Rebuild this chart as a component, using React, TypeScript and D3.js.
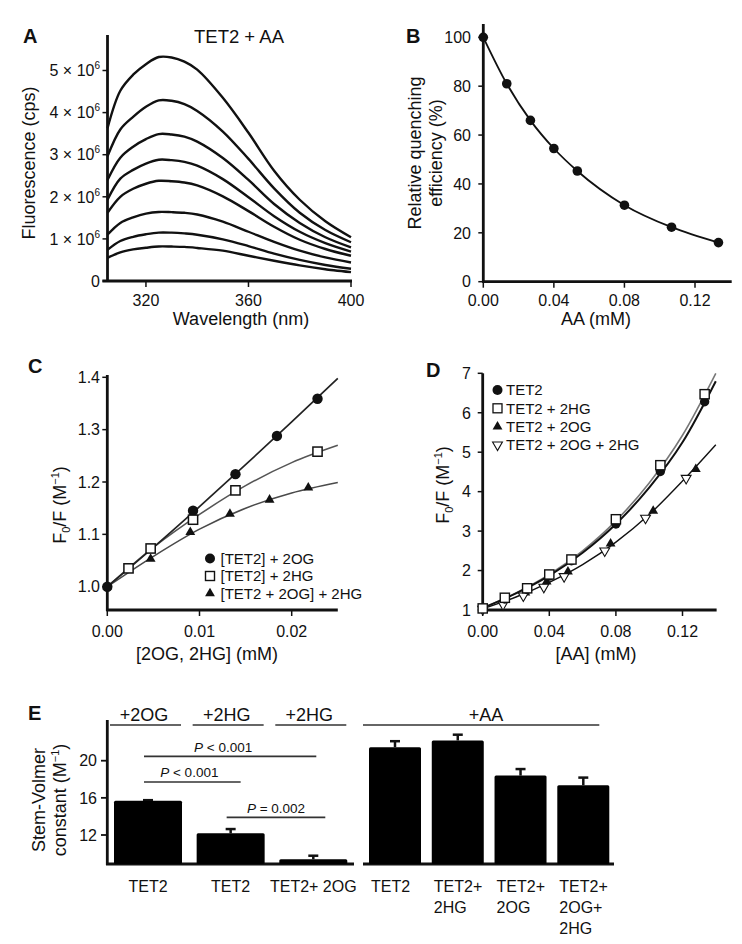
import React from 'react';
import * as d3 from 'd3';

const FONT = "'Liberation Sans', Arial, Helvetica, sans-serif";
const INK = '#111';

// ---------- Panel A: emission spectra (×10^6 cps) ----------
const aWavelengths = [305, 310, 315, 320, 325, 330, 335, 340, 350, 360, 370, 380, 390, 400];
const aSpec1 = [3.63, 4.52, 4.9, 5.15, 5.32, 5.31, 5.21, 5.02, 4.35, 3.52, 2.62, 1.93, 1.42, 1.04];
const aSpec2 = [2.96, 3.6, 3.9, 4.14, 4.29, 4.28, 4.2, 4.04, 3.55, 2.9, 2.2, 1.62, 1.21, 0.92];
const aSpec3 = [2.4, 2.93, 3.19, 3.37, 3.49, 3.48, 3.43, 3.31, 2.92, 2.4, 1.83, 1.38, 1.04, 0.8];
const aSpec4 = [1.93, 2.43, 2.64, 2.79, 2.88, 2.87, 2.83, 2.74, 2.42, 1.99, 1.54, 1.17, 0.9, 0.7];
const aSpec5 = [1.62, 2.0, 2.19, 2.31, 2.38, 2.37, 2.34, 2.27, 2.01, 1.66, 1.29, 0.98, 0.76, 0.6];
const aSpec6 = [1.1, 1.38, 1.51, 1.6, 1.64, 1.635, 1.62, 1.58, 1.41, 1.17, 0.93, 0.72, 0.56, 0.44];
const aSpec7 = [0.74, 0.95, 1.05, 1.11, 1.15, 1.148, 1.13, 1.1, 0.99, 0.83, 0.65, 0.5, 0.38, 0.29];
const aSpec8 = [0.55, 0.68, 0.75, 0.79, 0.82, 0.818, 0.81, 0.785, 0.72, 0.6, 0.48, 0.37, 0.28, 0.21];
const aSpectra = [aSpec1, aSpec2, aSpec3, aSpec4, aSpec5, aSpec6, aSpec7, aSpec8];
const aXTicks = [320, 360, 400];
const aYTicks = [0, 1, 2, 3, 4, 5];

// ---------- Panel B ----------
const bConc = [0, 0.0133, 0.0267, 0.04, 0.0533, 0.08, 0.1067, 0.1333];
const bEff = [100, 81, 66, 54.5, 45.3, 31.3, 22.3, 16];
const bXTicks = [0, 0.04, 0.08, 0.12];
const bYTicks = [0, 20, 40, 60, 80, 100];

// ---------- Panel C ----------
const cOgX = [0, 0.0093, 0.0139, 0.0184, 0.0228];
const cOgY = [1.0, 1.145, 1.215, 1.288, 1.359];
const cHgX = [0, 0.0023, 0.0047, 0.0093, 0.0139, 0.0228];
const cHgY = [1.0, 1.035, 1.073, 1.128, 1.184, 1.258];
const cBothX = [0, 0.0047, 0.009, 0.0133, 0.0176, 0.0218];
const cBothY = [1.0, 1.053, 1.104, 1.139, 1.166, 1.189];
const cFitX = [0, 0.005, 0.01, 0.015, 0.02, 0.025];
const cOgFit = [1.0, 1.075, 1.153, 1.233, 1.315, 1.398];
const cHgFit = [1.0, 1.075, 1.138, 1.193, 1.237, 1.27];
const cBothFit = [1.0, 1.058, 1.11, 1.15, 1.179, 1.199];
const cXTicks = [0, 0.01, 0.02];
const cYTicks = [1.0, 1.1, 1.2, 1.3, 1.4];
const cLegend = ['[TET2] + 2OG', '[TET2] + 2HG', '[TET2 + 2OG] + 2HG'];

// ---------- Panel D ----------
const dX = [0, 0.0133, 0.0267, 0.04, 0.0533, 0.08, 0.1067, 0.1333];
const dTetY = [1.04, 1.28, 1.52, 1.86, 2.25, 3.18, 4.51, 6.28];
const dHgY = [1.04, 1.31, 1.55, 1.9, 2.28, 3.3, 4.67, 6.47];
const dOgX = [0, 0.0128, 0.0256, 0.0384, 0.0512, 0.0768, 0.1024, 0.128];
const dOgY = [1.04, 1.25, 1.44, 1.72, 1.97, 2.68, 3.51, 4.57];
const dBothX = [0, 0.0122, 0.0244, 0.0367, 0.0489, 0.0733, 0.0978, 0.1222];
const dBothY = [1.02, 1.14, 1.36, 1.58, 1.85, 2.5, 3.33, 4.34];
const dFitX = [0, 0.02, 0.04, 0.06, 0.08, 0.1, 0.12, 0.14];
const dTetFit = [1.05, 1.42, 1.87, 2.45, 3.18, 4.1, 5.25, 6.8];
const dHgFit = [1.05, 1.43, 1.9, 2.5, 3.26, 4.22, 5.43, 7.0];
const dOgFit = [1.03, 1.33, 1.7, 2.15, 2.72, 3.42, 4.27, 5.19];
const dXTicks = [0, 0.04, 0.08, 0.12];
const dYTicks = [1, 2, 3, 4, 5, 6, 7];
const dLegend = ['TET2', 'TET2 + 2HG', 'TET2 + 2OG', 'TET2 + 2OG + 2HG'];

// ---------- Panel E ----------
const eLeftLabels = ['TET2', 'TET2', 'TET2+ 2OG'];
const eLeftGroups = ['+2OG', '+2HG', '+2HG'];
const eLeftValues = [15.68, 12.18, 9.39];
const eLeftErrors = [0.07, 0.46, 0.38];
const eRightLabels = [['TET2'], ['TET2+', '2HG'], ['TET2+', '2OG'], ['TET2+', '2OG+', '2HG']];
const eRightGroup = '+AA';
const eRightValues = [21.46, 22.18, 18.4, 17.36];
const eRightErrors = [0.64, 0.62, 0.7, 0.82];
const eYTicks = [12, 16, 20];
const eSigFrom = [0, 0, 1];
const eSigTo = [2, 1, 2];
const eSigLevel = [20.47, 17.71, 13.9];
const eSigText = ['< 0.001', '< 0.001', '= 0.002'];

const AXW = 2.8;

function tri(size: number) {
  return d3.symbol().type(d3.symbolTriangle).size(size)() as string;
}

export default function App() {
  const xA = d3.scaleLinear().domain([305, 400]).range([107.5, 351]);
  const yA = d3.scaleLinear().domain([0, 5]).range([281, 70.5]);
  const lineA = d3.line<number>().x((_, i) => xA(aWavelengths[i])).y((d) => yA(d)).curve(d3.curveCatmullRom.alpha(0.5));

  const xB = d3.scaleLinear().domain([0, 0.12]).range([483.3, 695]);
  const yB = d3.scaleLinear().domain([0, 100]).range([281.7, 37.3]);
  const lineB = d3.line<number>().x((_, i) => xB(bConc[i])).y((d) => yB(d)).curve(d3.curveMonotoneX);

  const xC = d3.scaleLinear().domain([0, 0.02]).range([107.3, 291.7]);
  const yC = d3.scaleLinear().domain([1.0, 1.4]).range([586.7, 377.3]);
  const lineC = d3.line<number>().x((_, i) => xC(cFitX[i])).y((d) => yC(d)).curve(d3.curveMonotoneX);

  const xD = d3.scaleLinear().domain([0, 0.12]).range([482.7, 682.5]);
  const yD = d3.scaleLinear().domain([1, 7]).range([610, 373.3]);
  const lineD = d3.line<number>().x((_, i) => xD(dFitX[i])).y((d) => yD(d)).curve(d3.curveMonotoneX);

  const yE = d3.scaleLinear().domain([12, 20]).range([835, 760.7]);
  const eBase = 864;
  const xEL = d3.scalePoint<number>().domain([0, 1, 2]).range([148, 313.3]);
  const xER = d3.scalePoint<number>().domain([0, 1, 2, 3]).range([395, 583.3]);
  const wL = 68;
  const wR = 52;

  const tickFs = 16;
  const titleFs = 18;

  const triUp = tri(42);
  const triUpLeg = tri(42);

  return (
    <svg width={742} height={944} style={{ position: 'absolute', left: 0, top: 0, background: '#fff' }} fontFamily={FONT} fill={INK}>
      <rect x={0} y={0} width={742} height={944} fill="#fff" />

      {/* ================= Panel A ================= */}
      <text x={23} y={43} fontSize={20} fontWeight="bold">A</text>
      <text x={239} y={43} fontSize={18.5} textAnchor="middle">TET2 + AA</text>
      <g stroke={INK} strokeWidth={AXW} fill="none">
        <line x1={xA(305)} x2={xA(305)} y1={yA(0) + 1} y2={35} />
        <line x1={xA(303)} x2={xA(400) + 1} y1={yA(0)} y2={yA(0)} />
      </g>
      {aYTicks.map((t) => (
        <g key={'ay' + t}>
          <line x1={xA(305) - 5} x2={xA(305)} y1={yA(t)} y2={yA(t)} stroke={INK} strokeWidth={1.5} />
          <text x={100} y={yA(t)} dy="0.36em" fontSize={tickFs} textAnchor="end">
            {t === 0 ? '0' : (
              <>
                {`${t} × 10`}
                <tspan fontSize={10} dy={-7}>6</tspan>
              </>
            )}
          </text>
        </g>
      ))}
      {aXTicks.map((t) => (
        <g key={'ax' + t}>
          <line x1={xA(t)} x2={xA(t)} y1={yA(0)} y2={yA(0) + 6} stroke={INK} strokeWidth={1.5} />
          <text x={xA(t)} y={306} fontSize={tickFs} textAnchor="middle">{t}</text>
        </g>
      ))}
      <text x={241} y={325} fontSize={titleFs} textAnchor="middle">Wavelength (nm)</text>
      <text transform="translate(34.5,163) rotate(-90)" fontSize={titleFs} textAnchor="middle">Fluorescence (cps)</text>
      <g fill="none" stroke={INK} strokeWidth={2.4}>
        {aSpectra.map((s, i) => (
          <path key={'as' + i} d={lineA(s) as string} />
        ))}
      </g>

      {/* ================= Panel B ================= */}
      <text x={406} y={43} fontSize={20} fontWeight="bold">B</text>
      <g stroke={INK} strokeWidth={AXW} fill="none">
        <line x1={xB(0)} x2={xB(0)} y1={yB(0) + 1} y2={24} />
        <line x1={xB(0) - 1} x2={xB(0.1408)} y1={yB(0)} y2={yB(0)} />
      </g>
      {bYTicks.map((t) => (
        <g key={'by' + t}>
          <line x1={xB(0) - 5} x2={xB(0)} y1={yB(t)} y2={yB(t)} stroke={INK} strokeWidth={1.5} />
          <text x={471} y={yB(t)} dy="0.36em" fontSize={tickFs} textAnchor="end">{t}</text>
        </g>
      ))}
      {bXTicks.map((t) => (
        <g key={'bx' + t}>
          <line x1={xB(t)} x2={xB(t)} y1={yB(0)} y2={yB(0) + 6} stroke={INK} strokeWidth={1.5} />
          <text x={xB(t)} y={306} fontSize={tickFs} textAnchor="middle">{t.toFixed(2)}</text>
        </g>
      ))}
      <text x={596} y={325} fontSize={titleFs} textAnchor="middle">AA (mM)</text>
      <text transform="translate(420.5,153) rotate(-90)" fontSize={titleFs} textAnchor="middle">Relative quenching</text>
      <text transform="translate(442,153) rotate(-90)" fontSize={titleFs} textAnchor="middle">efficiency (%)</text>
      <path d={lineB(bEff) as string} fill="none" stroke={INK} strokeWidth={1.8} />
      {bEff.map((v, i) => (
        <circle key={'bp' + i} cx={xB(bConc[i])} cy={yB(v)} r={4.8} fill={INK} />
      ))}

      {/* ================= Panel C ================= */}
      <text x={28} y={373} fontSize={20} fontWeight="bold">C</text>
      <g stroke={INK} strokeWidth={AXW} fill="none">
        <line x1={xC(0)} x2={xC(0)} y1={611} y2={375} />
        <line x1={xC(0) - 1} x2={xC(0.025)} y1={610} y2={610} />
      </g>
      {cYTicks.map((t) => (
        <g key={'cy' + t}>
          <line x1={xC(0) - 5} x2={xC(0)} y1={yC(t)} y2={yC(t)} stroke={INK} strokeWidth={1.5} />
          <text x={100} y={yC(t)} dy="0.36em" fontSize={tickFs} textAnchor="end">{t.toFixed(1)}</text>
        </g>
      ))}
      {cXTicks.map((t) => (
        <g key={'cx' + t}>
          <line x1={xC(t)} x2={xC(t)} y1={610} y2={616} stroke={INK} strokeWidth={1.5} />
          <text x={xC(t)} y={636.5} fontSize={tickFs} textAnchor="middle">{t.toFixed(2)}</text>
        </g>
      ))}
      <text x={207} y={660} fontSize={titleFs} textAnchor="middle">[2OG, 2HG] (mM)</text>
      <text transform="translate(66,505) rotate(-90)" fontSize={titleFs} textAnchor="middle">
        F<tspan fontSize={11} dy={4}>0</tspan><tspan dy={-4}>/F (M</tspan><tspan fontSize={11} dy={-7}>−1</tspan><tspan dy={7}>)</tspan>
      </text>
      <path d={lineC(cBothFit) as string} fill="none" stroke="#4a4a4a" strokeWidth={1.6} />
      <path d={lineC(cHgFit) as string} fill="none" stroke="#555" strokeWidth={1.6} />
      <path d={lineC(cOgFit) as string} fill="none" stroke="#222" strokeWidth={1.7} />
      {cBothY.map((v, i) => (
        <path key={'ct' + i} d={triUp} transform={`translate(${xC(cBothX[i])},${yC(v)})`} fill={INK} />
      ))}
      {cOgY.map((v, i) => (
        <circle key={'cc' + i} cx={xC(cOgX[i])} cy={yC(v)} r={5.2} fill={INK} />
      ))}
      {cHgY.map((v, i) => (i === 0 ? null : (
        <rect key={'cs' + i} x={xC(cHgX[i]) - 4.6} y={yC(v) - 4.6} width={9.2} height={9.2} fill="#fff" stroke={INK} strokeWidth={1.5} />
      )))}
      {cLegend.map((l, i) => (
        <g key={'cl' + i} transform={`translate(0,${558.5 + i * 17.5})`}>
          {i === 0 && <circle cx={210} cy={0} r={5} fill={INK} />}
          {i === 1 && <rect x={205.5} y={-4.5} width={9} height={9} fill="#fff" stroke={INK} strokeWidth={1.4} />}
          {i === 2 && <path d={triUpLeg} transform="translate(210,0)" fill={INK} />}
          <text x={220.5} y={0} dy="0.36em" fontSize={15}>{l}</text>
        </g>
      ))}

      {/* ================= Panel D ================= */}
      <text x={426} y={377} fontSize={20} fontWeight="bold">D</text>
      <g stroke={INK} strokeWidth={AXW} fill="none">
        <line x1={xD(0)} x2={xD(0)} y1={611} y2={yD(7)} />
        <line x1={xD(0) - 1} x2={xD(0.1405)} y1={610} y2={610} />
      </g>
      {dYTicks.map((t) => (
        <g key={'dy' + t}>
          <line x1={xD(0) - 5} x2={xD(0)} y1={yD(t)} y2={yD(t)} stroke={INK} strokeWidth={1.5} />
          <text x={471} y={yD(t)} dy="0.36em" fontSize={tickFs} textAnchor="end">{t}</text>
        </g>
      ))}
      {dXTicks.map((t) => (
        <g key={'dx' + t}>
          <line x1={xD(t)} x2={xD(t)} y1={610} y2={616} stroke={INK} strokeWidth={1.5} />
          <text x={xD(t)} y={636.5} fontSize={tickFs} textAnchor="middle">{t.toFixed(2)}</text>
        </g>
      ))}
      <text x={596} y={660} fontSize={titleFs} textAnchor="middle">[AA] (mM)</text>
      <text transform="translate(449,485) rotate(-90)" fontSize={titleFs} textAnchor="middle">
        F<tspan fontSize={11} dy={4}>0</tspan><tspan dy={-4}>/F (M</tspan><tspan fontSize={11} dy={-7}>−1</tspan><tspan dy={7}>)</tspan>
      </text>
      <path d={lineD(dOgFit) as string} fill="none" stroke={INK} strokeWidth={1.4} />
      <path d={lineD(dHgFit) as string} fill="none" stroke="#777" strokeWidth={1.6} />
      <path d={lineD(dTetFit) as string} fill="none" stroke={INK} strokeWidth={2} />
      {dOgY.map((v, i) => (
        <path key={'dt' + i} d={triUp} transform={`translate(${xD(dOgX[i])},${yD(v)})`} fill={INK} />
      ))}
      {dBothY.map((v, i) => (
        <path key={'dv' + i} d={triUp} transform={`translate(${xD(dBothX[i])},${yD(v)}) rotate(180)`} fill="#fff" stroke={INK} strokeWidth={1.1} />
      ))}
      {dTetY.map((v, i) => (
        <circle key={'dc' + i} cx={xD(dX[i])} cy={yD(v)} r={4.7} fill={INK} />
      ))}
      {dHgY.map((v, i) => (
        <rect key={'ds' + i} x={xD(dX[i]) - 4.6} y={yD(v) - 4.6} width={9.2} height={9.2} fill="#fff" stroke={INK} strokeWidth={1.4} />
      ))}
      {dLegend.map((l, i) => (
        <g key={'dl' + i} transform={`translate(0,${390 + i * 18.3})`}>
          {i === 0 && <circle cx={497.5} cy={0} r={5} fill={INK} />}
          {i === 1 && <rect x={493} y={-4.5} width={9} height={9} fill="#fff" stroke={INK} strokeWidth={1.3} />}
          {i === 2 && <path d={triUpLeg} transform="translate(497.5,0)" fill={INK} />}
          {i === 3 && <path d={triUpLeg} transform="translate(497.5,0) rotate(180)" fill="#fff" stroke={INK} strokeWidth={1.1} />}
          <text x={506} y={0} dy="0.36em" fontSize={15}>{l}</text>
        </g>
      ))}

      {/* ================= Panel E ================= */}
      <text x={28} y={720} fontSize={20} fontWeight="bold">E</text>
      {eLeftGroups.map((g, i) => (
        <g key={'eg' + i}>
          <text x={(xEL(i) as number) - 4} y={720.5} fontSize={titleFs} textAnchor="middle">{g}</text>
          <line x1={(xEL(i) as number) - 38} x2={(xEL(i) as number) + 33} y1={725} y2={725} stroke="#333" strokeWidth={1.6} />
        </g>
      ))}
      <text x={486} y={720.5} fontSize={titleFs} textAnchor="middle">{eRightGroup}</text>
      <line x1={(xER(0) as number) - 32} x2={(xER(3) as number) + 16} y1={725} y2={725} stroke="#333" strokeWidth={1.6} />

      <g stroke={INK} strokeWidth={AXW} fill="none">
        <line x1={107.3} x2={107.3} y1={eBase + 1} y2={720} />
        <line x1={106} x2={354} y1={eBase} y2={eBase} />
        <line x1={363} x2={614} y1={eBase} y2={eBase} />
      </g>
      {eYTicks.map((t) => (
        <g key={'ey' + t}>
          <line x1={101} x2={107.3} y1={yE(t)} y2={yE(t)} stroke={INK} strokeWidth={1.8} />
          <text x={97} y={yE(t)} dy="0.36em" fontSize={tickFs} textAnchor="end">{t}</text>
        </g>
      ))}
      <text transform="translate(45,800) rotate(-90)" fontSize={titleFs} textAnchor="middle">Stem-Volmer</text>
      <text transform="translate(66.3,800) rotate(-90)" fontSize={titleFs} textAnchor="middle">
        constant (M<tspan fontSize={11} dy={-7}>−1</tspan><tspan dy={7}>)</tspan>
      </text>

      {eLeftValues.map((v, i) => {
        const cx = xEL(i) as number;
        const top = yE(v);
        const et = yE(v + eLeftErrors[i]);
        return (
          <g key={'ebl' + i}>
            <line x1={cx} x2={cx} y1={top} y2={et} stroke={INK} strokeWidth={2.5} />
            <line x1={cx - 5} x2={cx + 5} y1={et} y2={et} stroke={INK} strokeWidth={2.5} />
            <rect x={cx - wL / 2} y={top} width={wL} height={eBase - top} rx={1.5} fill="#000" />
            <text x={cx} y={891.5} fontSize={tickFs} textAnchor="middle">{eLeftLabels[i]}</text>
          </g>
        );
      })}
      {eRightValues.map((v, i) => {
        const cx = xER(i) as number;
        const top = yE(v);
        const et = yE(v + eRightErrors[i]);
        return (
          <g key={'ebr' + i}>
            <line x1={cx} x2={cx} y1={top} y2={et} stroke={INK} strokeWidth={2.5} />
            <line x1={cx - 5} x2={cx + 5} y1={et} y2={et} stroke={INK} strokeWidth={2.5} />
            <rect x={cx - wR / 2} y={top} width={wR} height={eBase - top} rx={1.5} fill="#000" />
            <text x={cx - 24} y={891.5} fontSize={tickFs}>
              {eRightLabels[i].map((ln, j) => (
                <tspan key={j} x={cx - 24} dy={j === 0 ? 0 : 21}>{ln}</tspan>
              ))}
            </text>
          </g>
        );
      })}
      {eSigText.map((s, i) => {
        const extra = [3, 10, 12][i];
        const x1 = (xEL(eSigFrom[i]) as number) - 4;
        const x2 = (xEL(eSigTo[i]) as number) + extra;
        const y = yE(eSigLevel[i]);
        return (
          <g key={'es' + i}>
            <line x1={x1} x2={x2} y1={y} y2={y} stroke="#333" strokeWidth={1.6} />
            <text x={(x1 + x2) / 2 - [7, 3, 0][i]} y={y - 4.5} fontSize={13.5} textAnchor="middle">
              <tspan fontStyle="italic">P</tspan>{' ' + s}
            </text>
          </g>
        );
      })}
    </svg>
  );
}
